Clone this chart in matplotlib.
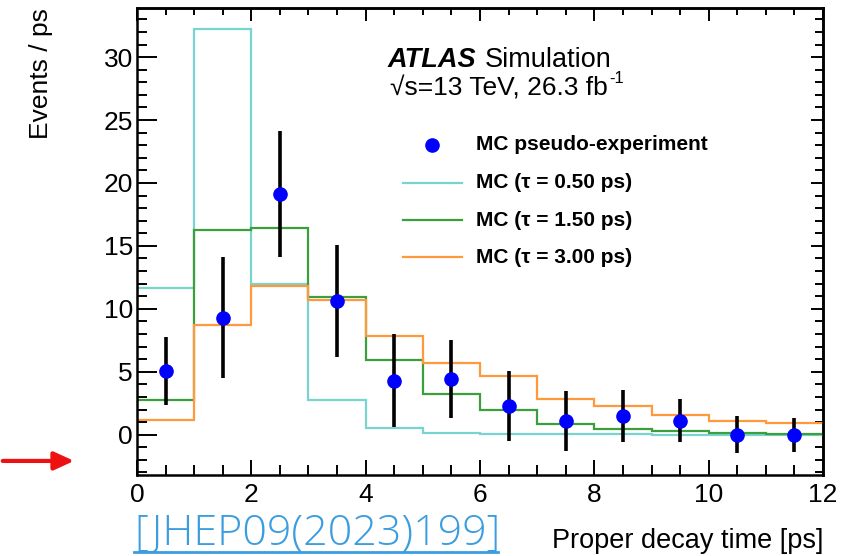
import matplotlib
matplotlib.use("Agg")
import matplotlib.pyplot as plt
import numpy as np
from matplotlib.ticker import MultipleLocator, NullFormatter
from matplotlib.lines import Line2D

# Binning of the proper decay time [ps]
bin_edges = [0, 1, 2, 3, 4, 5, 6, 7, 8, 9, 10, 11, 12]
bin_centers = [0.5, 1.5, 2.5, 3.5, 4.5, 5.5, 6.5, 7.5, 8.5, 9.5, 10.5, 11.5]

# MC pseudo-experiment (events / ps) with uncertainties
pseudo_values = [5.1, 9.3, 19.1, 10.6, 4.3, 4.4, 2.3, 1.1, 1.5, 1.1, 0.0, 0.0]
pseudo_errors = [2.7, 4.8, 5.0, 4.45, 3.7, 3.1, 2.8, 2.4, 2.05, 1.7, 1.45, 1.35]

# MC templates for different lifetimes
mc_tau050 = [11.63, 32.25, 11.95, 2.72, 0.50, 0.15, 0.06, 0.03, 0.02, 0.01, 0.01, 0.0]
mc_tau150 = [2.72, 16.24, 16.40, 10.98, 5.96, 3.20, 1.93, 0.87, 0.47, 0.26, 0.13, 0.05]
mc_tau300 = [1.16, 8.73, 11.85, 10.68, 7.83, 5.71, 4.65, 2.80, 2.25, 1.53, 1.11, 0.90]

legend_labels = ["MC pseudo-experiment", "MC (τ = 0.50 ps)",
                 "MC (τ = 1.50 ps)", "MC (τ = 3.00 ps)"]
colors = ["#0000ff", "#78d4d0", "#3c9e3c", "#ff9a3c"]

plt.rcParams['font.family'] = ['Liberation Sans', 'DejaVu Sans']

fig = plt.figure(figsize=(8.45, 5.56), dpi=100)
ax = fig.add_axes([0.1621, 0.1457, 0.8119, 0.8399])

edges = np.array(bin_edges, dtype=float)
for vals, col in zip([mc_tau050, mc_tau150, mc_tau300], colors[1:]):
    ax.stairs(vals, edges, color=col, lw=1.6, baseline=None)

ax.errorbar(bin_centers, pseudo_values, yerr=pseudo_errors, fmt='o',
            color=colors[0], ms=9.5, ecolor='black', elinewidth=2.6,
            capsize=0, zorder=5)

ax.set_xlim(0, 12)
ax.set_ylim(-3.2, 33.9)
ax.xaxis.set_major_locator(MultipleLocator(2))
ax.xaxis.set_minor_locator(MultipleLocator(0.5))
ax.yaxis.set_major_locator(MultipleLocator(5))
ax.yaxis.set_minor_locator(MultipleLocator(1))
ax.tick_params(which='both', direction='in', top=False, right=False,
               width=1.4, labelsize=19)
ax.tick_params(axis='y', which='major', length=14.4, pad=3)
ax.tick_params(axis='y', which='minor', length=7.2)
ax.tick_params(axis='x', which='major', length=10.8, pad=6)
ax.tick_params(axis='x', which='minor', length=7.2)
for s in ax.spines.values():
    s.set_linewidth(1.8)

# Opposite-side ticks (shorter, unlabeled)
sec_x = ax.secondary_xaxis('top')
sec_x.xaxis.set_major_locator(MultipleLocator(2))
sec_x.xaxis.set_minor_locator(MultipleLocator(0.5))
sec_x.xaxis.set_major_formatter(NullFormatter())
sec_x.tick_params(which='both', direction='in', width=1.4)
sec_x.tick_params(which='major', length=9.4)
sec_x.tick_params(which='minor', length=5)
sec_y = ax.secondary_yaxis('right')
sec_y.yaxis.set_major_locator(MultipleLocator(5))
sec_y.yaxis.set_minor_locator(MultipleLocator(1))
sec_y.yaxis.set_major_formatter(NullFormatter())
sec_y.tick_params(which='both', direction='in', width=1.4)
sec_y.tick_params(which='major', length=8.6)
sec_y.tick_params(which='minor', length=5.8)
for sa in (sec_x, sec_y):
    for s in sa.spines.values():
        s.set_linewidth(1.8)

ax.set_ylabel("Events / ps", fontsize=19)
ax.yaxis.set_label_coords(-0.122, 1.0)
ax.yaxis.label.set_ha('right')
fig.text(0.974, 0.0144, "Proper decay time [ps]", ha='right', va='baseline',
         fontsize=19.5)

# Experiment labels
renderer = fig.canvas.get_renderer()
t_atlas = fig.text(0.459, 0.8795, "ATLAS", fontsize=19.5, fontweight='bold',
                   fontstyle='italic', va='baseline')
bb = t_atlas.get_window_extent(renderer=renderer)
fig.text((bb.x1 + 8) / fig.bbox.width, 0.8795, "Simulation", fontsize=19.5,
         va='baseline')
t_lumi = fig.text(0.462, 0.829, "√s=13 TeV, 26.3 fb", fontsize=19,
                  va='baseline')
bb = t_lumi.get_window_extent(renderer=renderer)
fig.text((bb.x1 + 1) / fig.bbox.width, 0.829 + 0.022, "-1", fontsize=12,
         va='baseline')

# Legend drawn by hand
leg_y = [0.7395, 0.671, 0.604, 0.5375]
for i, (lab, y) in enumerate(zip(legend_labels, leg_y)):
    if i == 0:
        fig.add_artist(Line2D([0.5115], [y], marker='o', ms=9.5,
                              color=colors[0], ls='none',
                              transform=fig.transFigure))
    else:
        fig.add_artist(Line2D([0.477, 0.547], [y, y], color=colors[i], lw=1.6,
                              transform=fig.transFigure))
    fig.text(0.563, y, lab, fontsize=15, fontweight='bold', va='center')

# Reference link
fig.text(0.159, 0.0198, "[JHEP09(2023)199]", fontsize=31, color='#3a9de0',
         family=['Open Sans', 'DejaVu Sans'], fontweight=300, va='baseline')
fig.add_artist(Line2D([0.159, 0.589], [0.0072, 0.0072], color='#3a9de0', lw=2,
                      transform=fig.transFigure))

# Red arrow at the left
ax_arrow = fig.add_axes([0, 0, 1, 1], facecolor='none')
ax_arrow.set_axis_off()
ax_arrow.set_xlim(0, 1)
ax_arrow.set_ylim(0, 1)
ax_arrow.annotate("", xy=(0.091, 0.171), xytext=(0.0, 0.171),
                  arrowprops=dict(arrowstyle='-|>,head_length=1.2,head_width=0.55',
                                  color='#ee1111', lw=3))

fig.savefig("out.png", dpi=100)
